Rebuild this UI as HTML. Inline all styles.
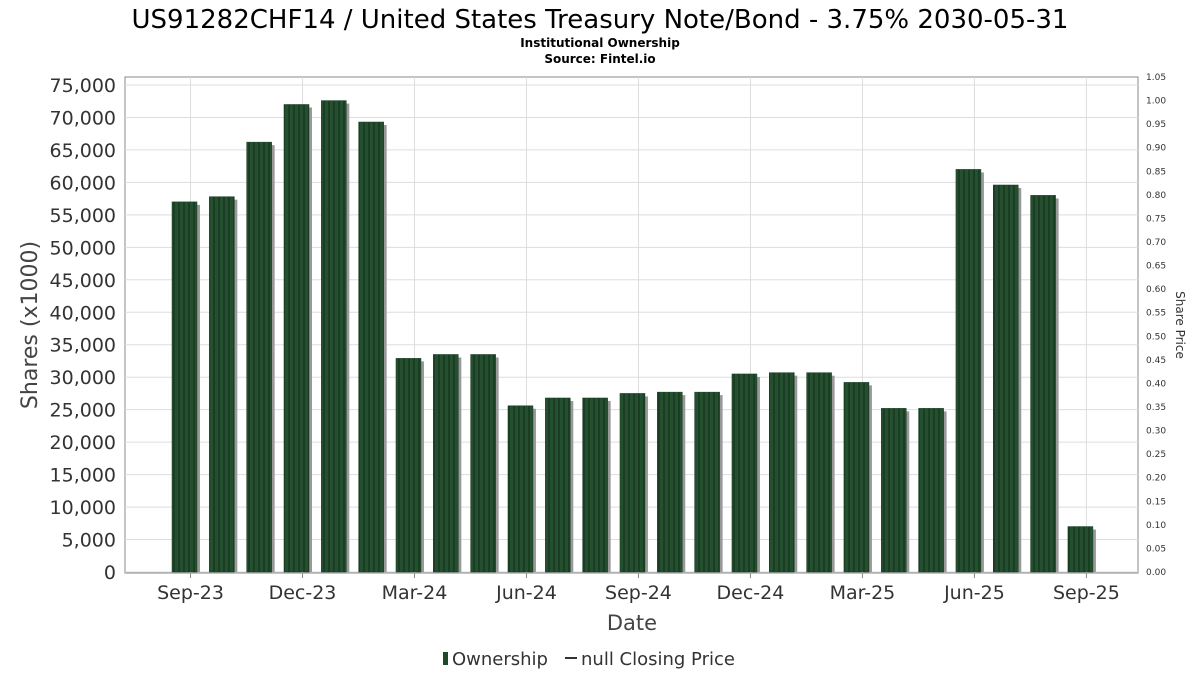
<!DOCTYPE html>
<html><head><meta charset="utf-8"><style>
body{margin:0;background:#fff;font-family:"DejaVu Sans","Liberation Sans",sans-serif;}
</style></head><body>
<svg width="1200" height="675" xmlns="http://www.w3.org/2000/svg">
<defs>
<pattern id="stripe" width="5" height="10" patternUnits="userSpaceOnUse">
<rect width="5" height="10" fill="#24502f"/><rect x="3" width="2" height="10" fill="#1a3d23"/>
</pattern>
</defs>
<text x="600" y="28" text-anchor="middle" font-size="26" fill="#000">US91282CHF14 / United States Treasury Note/Bond - 3.75% 2030-05-31</text>
<text x="600" y="47" text-anchor="middle" font-size="12" font-weight="bold">Institutional Ownership</text>
<text x="600" y="63" text-anchor="middle" font-size="12" font-weight="bold">Source: Fintel.io</text>
<rect x="125" y="77" width="1013" height="496" fill="#fff" stroke="#888"/>
<g id="grid"></g><g id="bars"></g><g id="axes"></g>
<text x="37" y="325" transform="rotate(-90 37 325)" text-anchor="middle" font-size="22" fill="#444">Shares (x1000)</text>
<text x="1176" y="325" transform="rotate(90 1176 325)" text-anchor="middle" font-size="12" fill="#333">Share Price</text>
<text x="632" y="630" text-anchor="middle" font-size="21" fill="#444">Date</text>
<g>
<rect x="443" y="652" width="5" height="13" fill="#1e4a2a"/>
<text x="452" y="665" font-size="18" fill="#333">Ownership</text>
<line x1="565" y1="658" x2="577" y2="658" stroke="#333" stroke-width="2"/>
<text x="581" y="665" font-size="18" fill="#333">null Closing Price</text>
</g>
</svg>
<script>
const values=[57000,57800,66200,72000,72600,69300,32900,33500,33500,25600,26800,26800,27500,27700,27700,30500,30700,30700,29200,25200,25200,62000,59600,58000,7000];
const yTicks=[0,5000,10000,15000,20000,25000,30000,35000,40000,45000,50000,55000,60000,65000,70000,75000];
const y2Ticks=[0,0.05,0.1,0.15,0.2,0.25,0.3,0.35,0.4,0.45,0.5,0.55,0.6,0.65,0.7,0.75,0.8,0.85,0.9,0.95,1.0,1.05];
const xLabels=["Sep-23","Dec-23","Mar-24","Jun-24","Sep-24","Dec-24","Mar-25","Jun-25","Sep-25"];
const xLabelIdx=[0,3,6,9,12,15,18,21,24];
const NS="http://www.w3.org/2000/svg";
const y=v=>572-v/75000*487;
const y2=v=>572-v/1.05*495;
const xc=i=>184.5+i*37.33;
function mk(t,a,p){const e=document.createElementNS(NS,t);for(const k in a)e.setAttribute(k,a[k]);p.appendChild(e);return e;}
const G=document.getElementById('grid'),B=document.getElementById('bars'),A=document.getElementById('axes');
yTicks.forEach(v=>{
 const l=mk('line',{x1:125,x2:1138,y1:y(v),y2:y(v),stroke:'#ddd'},G);
 
 const t=mk('text',{x:116,y:y(v)+7,'text-anchor':'end','font-size':19,fill:'#333'},A);t.textContent=v.toLocaleString('en-US');
 
});
y2Ticks.forEach(v=>{
 const t=mk('text',{x:1146,y:y2(v)+3,'font-size':9,fill:'#333'},A);t.textContent=v.toFixed(2);
 
});
xLabelIdx.forEach((i,k)=>{
 const x=xc(i)+6;
 const l=mk('line',{x1:x,x2:x,y1:77,y2:573,stroke:'#ddd'},G);
 
 mk('line',{x1:x,x2:x,y1:573,y2:578,stroke:'#888'},A);
 const t=mk('text',{x:x,y:599,'text-anchor':'middle','font-size':19,fill:'#333'},A);t.textContent=xLabels[k];
 
});
values.forEach((v,i)=>{
 const x=xc(i)-12.5,top=y(v);
 const s=mk('rect',{x:x+3,y:top+3,width:25,height:572-top-3,fill:'#999'},B);
 
 const r=mk('rect',{x:x,y:top,width:25,height:572-top,fill:'url(#stripe)',stroke:'#1a3d23','stroke-width':0.5},B);
 
});
</script>
</body></html>
